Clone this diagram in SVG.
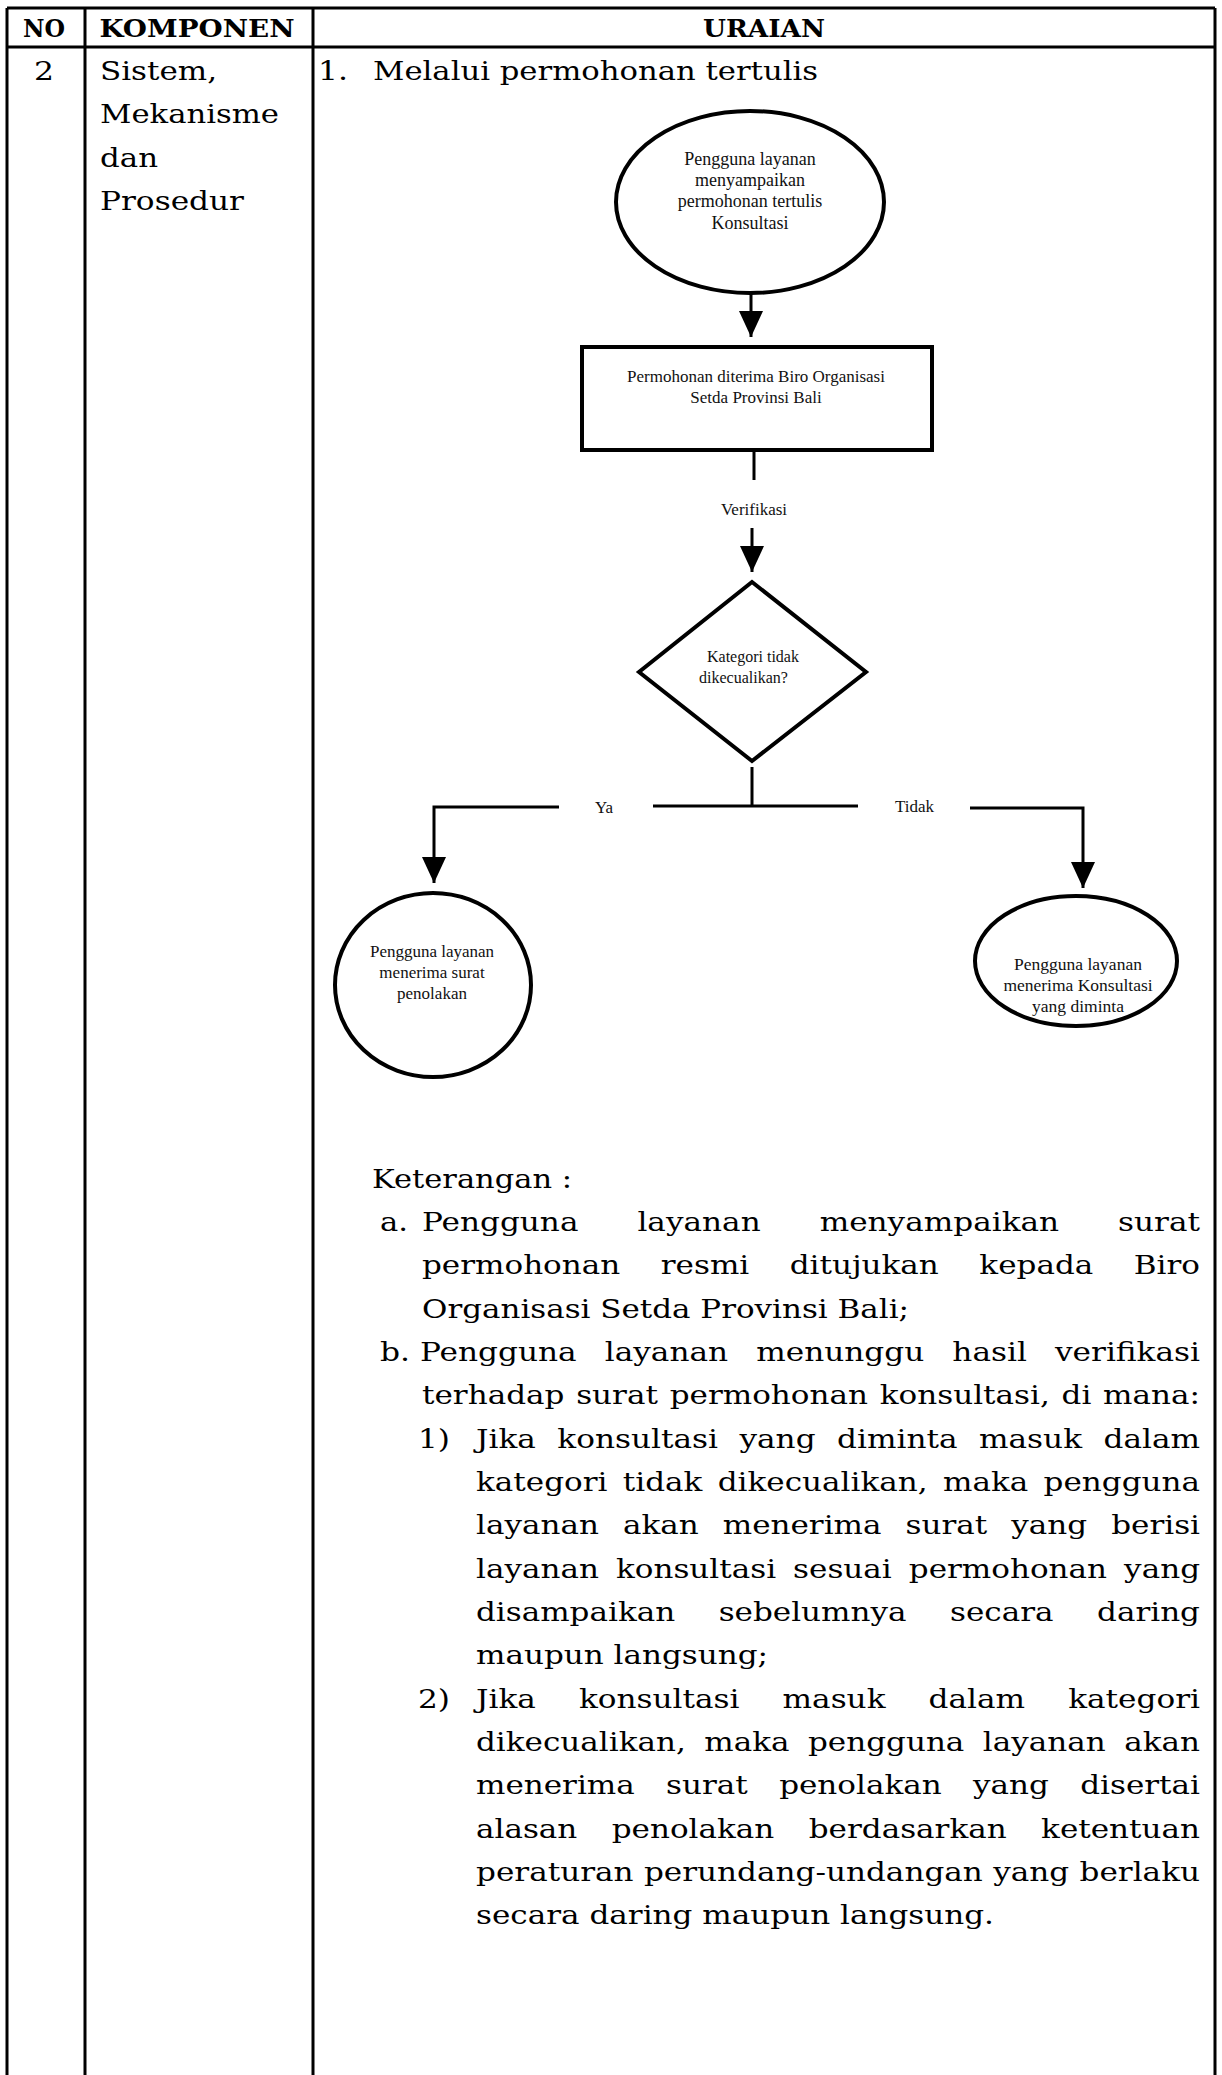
<svg xmlns="http://www.w3.org/2000/svg" width="1222" height="2075" viewBox="0 0 1222 2075">
<defs>
<style>
.grid{stroke:#000;stroke-width:3;fill:none}
.hd{font-family:"DejaVu Serif",serif;font-weight:bold;font-size:24px;fill:#000}
.b{font-family:"DejaVu Serif",serif;font-size:26px;fill:#000}
.fc{font-family:"Liberation Serif","Times New Roman",serif;fill:#111}
.shape{fill:#fff;stroke:#000;stroke-width:4}
.conn{fill:none;stroke:#000;stroke-width:3}
</style>
<marker id="ah" markerUnits="userSpaceOnUse" viewBox="0 0 26 24" refX="26" refY="12" markerWidth="26" markerHeight="24" orient="auto">
<path d="M0,0 L26,12 L0,24 Z" fill="#000"/>
</marker>
</defs>
<rect width="1222" height="2075" fill="#fff"/>
<g id="table">
<path class="grid" d="M7,8 H1215 M7,47 H1215 M7,8 V2075 M85,8 V2075 M313,8 V2075 M1215,8 V2075"/>
<text class="hd" x="44" y="37" text-anchor="middle" textLength="42" lengthAdjust="spacingAndGlyphs">NO</text>
<text class="hd" x="197" y="37" text-anchor="middle" textLength="195" lengthAdjust="spacingAndGlyphs">KOMPONEN</text>
<text class="hd" x="764" y="37" text-anchor="middle" textLength="122" lengthAdjust="spacingAndGlyphs">URAIAN</text>
<text class="b" x="44" y="80" text-anchor="middle" textLength="20" lengthAdjust="spacingAndGlyphs">2</text>
<text class="b" x="100" y="80" textLength="117" lengthAdjust="spacingAndGlyphs">Sistem,</text>
<text class="b" x="100" y="123" textLength="179" lengthAdjust="spacingAndGlyphs">Mekanisme</text>
<text class="b" x="100" y="167" textLength="58" lengthAdjust="spacingAndGlyphs">dan</text>
<text class="b" x="100" y="210" textLength="144" lengthAdjust="spacingAndGlyphs">Prosedur</text>
<text class="b" x="318" y="80" textLength="30" lengthAdjust="spacingAndGlyphs">1.</text>
<text class="b" x="373" y="80" textLength="445" lengthAdjust="spacingAndGlyphs">Melalui permohonan tertulis</text>
</g>
<g id="n_start">
<ellipse class="shape" cx="750" cy="202" rx="134" ry="91" stroke-width="4.5"/>
<text class="fc" font-size="18" text-anchor="middle"><tspan x="750" y="165">Pengguna layanan</tspan><tspan x="750" y="186">menyampaikan</tspan><tspan x="750" y="207">permohonan tertulis</tspan><tspan x="750" y="229">Konsultasi</tspan></text>
</g>
<g id="n_terima">
<rect class="shape" x="582" y="347" width="350" height="103"/>
<text class="fc" font-size="17" text-anchor="middle"><tspan x="756" y="382">Permohonan diterima Biro Organisasi</tspan><tspan x="756" y="403">Setda Provinsi Bali</tspan></text>
</g>
<g id="n_kategori">
<polygon class="shape" stroke-width="3.5" points="752,582 866,672 752,761 639,672"/>
<text class="fc" font-size="16"><tspan x="707" y="662">Kategori tidak</tspan><tspan x="699" y="683">dikecualikan?</tspan></text>
</g>
<g id="n_tolak">
<ellipse class="shape" cx="433" cy="985" rx="98" ry="92"/>
<text class="fc" font-size="17" text-anchor="middle"><tspan x="432" y="957">Pengguna layanan</tspan><tspan x="432" y="978">menerima surat</tspan><tspan x="432" y="999">penolakan</tspan></text>
</g>
<g id="n_terima_konsultasi">
<ellipse class="shape" cx="1076" cy="961" rx="101" ry="65"/>
<text class="fc" font-size="17.5" text-anchor="middle"><tspan x="1078" y="970">Pengguna layanan</tspan><tspan x="1078" y="991">menerima Konsultasi</tspan><tspan x="1078" y="1012">yang diminta</tspan></text>
</g>
<g id="connectors">
<path class="conn" d="M751,294 V337" marker-end="url(#ah)"/>
<path class="conn" d="M754,450 V480"/>
<text class="fc" font-size="17" x="754" y="515" text-anchor="middle">Verifikasi</text>
<path class="conn" d="M752,528 V572" marker-end="url(#ah)"/>
<path class="conn" d="M752,767 V806"/>
<path class="conn" d="M653,806 H858"/>
<text class="fc" font-size="17" x="595" y="813">Ya</text>
<path class="conn" d="M559,807 H434 V883" marker-end="url(#ah)"/>
<text class="fc" font-size="17" x="895" y="812">Tidak</text>
<path class="conn" d="M970,808 H1083 V888" marker-end="url(#ah)"/>
</g>
<g id="keterangan">
<text class="b" x="372" y="1188" textLength="200" lengthAdjust="spacingAndGlyphs">Keterangan :</text>
<text class="b" x="380" y="1231" textLength="28" lengthAdjust="spacingAndGlyphs">a.</text>
<text class="b" x="422" y="1231" word-spacing="41" textLength="778" lengthAdjust="spacingAndGlyphs">Pengguna layanan menyampaikan surat</text>
<text class="b" x="422" y="1274" word-spacing="25.7" textLength="778" lengthAdjust="spacingAndGlyphs">permohonan resmi ditujukan kepada Biro</text>
<text class="b" x="422" y="1318" textLength="487" lengthAdjust="spacingAndGlyphs">Organisasi Setda Provinsi Bali;</text>
<text class="b" x="380" y="1361" textLength="30" lengthAdjust="spacingAndGlyphs">b.</text>
<text class="b" x="420" y="1361" word-spacing="15.2" textLength="780" lengthAdjust="spacingAndGlyphs">Pengguna layanan menunggu hasil verifikasi</text>
<text class="b" x="422" y="1404" word-spacing="1.6" textLength="778" lengthAdjust="spacingAndGlyphs">terhadap surat permohonan konsultasi, di mana:</text>
<text class="b" x="418" y="1448" textLength="32" lengthAdjust="spacingAndGlyphs">1)</text>
<text class="b" x="476" y="1448" word-spacing="9.7" textLength="724" lengthAdjust="spacingAndGlyphs">Jika konsultasi yang diminta masuk dalam</text>
<text class="b" x="476" y="1491" word-spacing="4.6" textLength="724" lengthAdjust="spacingAndGlyphs">kategori tidak dikecualikan, maka pengguna</text>
<text class="b" x="476" y="1534" word-spacing="11.9" textLength="724" lengthAdjust="spacingAndGlyphs">layanan akan menerima surat yang berisi</text>
<text class="b" x="476" y="1578" word-spacing="6" textLength="724" lengthAdjust="spacingAndGlyphs">layanan konsultasi sesuai permohonan yang</text>
<text class="b" x="476" y="1621" word-spacing="28.2" textLength="724" lengthAdjust="spacingAndGlyphs">disampaikan sebelumnya secara daring</text>
<text class="b" x="476" y="1664" textLength="292" lengthAdjust="spacingAndGlyphs">maupun langsung;</text>
<text class="b" x="418" y="1708" textLength="32" lengthAdjust="spacingAndGlyphs">2)</text>
<text class="b" x="476" y="1708" word-spacing="27.7" textLength="724" lengthAdjust="spacingAndGlyphs">Jika konsultasi masuk dalam kategori</text>
<text class="b" x="476" y="1751" word-spacing="7.2" textLength="724" lengthAdjust="spacingAndGlyphs">dikecualikan, maka pengguna layanan akan</text>
<text class="b" x="476" y="1794" word-spacing="18" textLength="724" lengthAdjust="spacingAndGlyphs">menerima surat penolakan yang disertai</text>
<text class="b" x="476" y="1838" word-spacing="20.6" textLength="724" lengthAdjust="spacingAndGlyphs">alasan penolakan berdasarkan ketentuan</text>
<text class="b" x="476" y="1881" word-spacing="0.4" textLength="724" lengthAdjust="spacingAndGlyphs">peraturan perundang-undangan yang berlaku</text>
<text class="b" x="476" y="1924" textLength="518" lengthAdjust="spacingAndGlyphs">secara daring maupun langsung.</text>
</g>
</svg>
